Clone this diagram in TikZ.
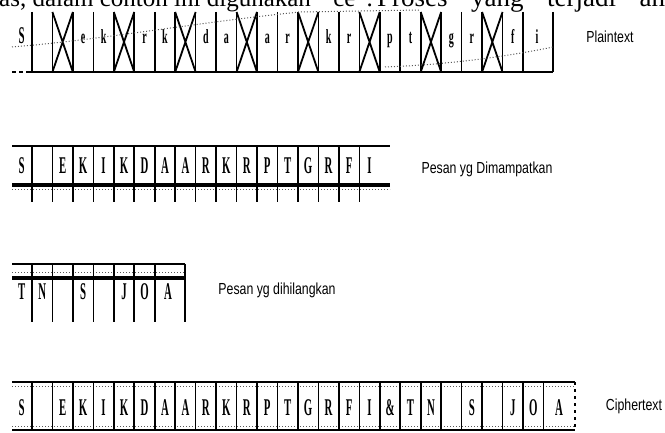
\documentclass[tikz,border=0pt]{standalone}
\usepackage{fontspec}
\setmainfont{Liberation Serif}
\newfontfamily\labfont{Liberation Sans}
\begin{document}
\begin{tikzpicture}[x=1pt,y=-1pt,
  cellline/.style={line width=1.6pt},
  heavybar/.style={line width=3.5pt},
  thinline/.style={line width=1.5pt},
  grain/.style={line width=1pt, dotted, black!65},
  crossline/.style={line width=1.8pt},
  doctext/.style={font=\fontsize{25}{25}\selectfont, inner sep=0, anchor=base west},
  lowl/.style={font=\bfseries\fontsize{20}{20}\selectfont, xscale=0.5, inner sep=0, anchor=base},
  capl/.style={font=\bfseries\fontsize{24}{24}\selectfont, xscale=0.45, inner sep=0, anchor=base},
  lbl/.style={font=\labfont\fontsize{16}{16}\selectfont, xscale=0.77, inner sep=0}]
\useasboundingbox (0,0) rectangle (665,433);
\clip (0,0) rectangle (665,433);
\fill[white] (0,0) rectangle (665,433);
\def\xo{11.5}
\def\w{20.46}
% clipped document text (line of the source page)
\node[doctext] (doc1) at (-1,6.5) {as, dalam contoh ini digunakan};
\node[doctext] (doc2) at (322,6.5) {``ce''.};
\node[doctext, font=\fontsize{27}{27}\selectfont] (doc3) at (377,6.5) {\makebox[288pt][s]{Proses yang terjadi an}};
% ---------- Row 1: plaintext ----------
\foreach \k in {1,...,25} \draw[cellline] (\xo+\k*\w,12) -- (\xo+\k*\w,72);
\draw[cellline] (553,12) -- (553,72);
\draw[line width=2.5pt] (28,72) -- (553,72);
\draw[line width=2.5pt, dash pattern=on 4pt off 3pt] (12,72) -- (28,72);
\foreach \k in {2,5,8,11,14,17,20,23}
  \draw[crossline] (\xo+\k*\w,12) -- (\xo+\k*\w+\w,72) (\xo+\k*\w+\w,12) -- (\xo+\k*\w,72);
\node[capl] (pS) at (\xo+0.5*\w,44) {S};
\foreach \k/\l in {3/e,4/k,6/r,7/k,9/d,10/a,12/a,13/r,15/k,16/r,18/p,19/t,21/g,22/r,24/f}
  \node[lowl] (p\k) at (\xo+\k*\w+0.5*\w,44) {\l};
\node[lowl] (p25) at (537,44) {i};
\draw[grain] (12,47) .. controls (100,40) and (200,22) .. (300,12) -- (420,10);
\draw[grain] (385,67) .. controls (440,65) and (500,58) .. (553,47);
\node[lbl] (plain) at (610,37) {Plaintext};
% ---------- Row 2: compressed ----------
\draw[thinline] (12,146) -- (390,146);
\draw[heavybar] (12,185) -- (390,185);
\draw[grain] (12,190) -- (390,190);
\foreach \k in {1,...,17} \draw[cellline] (\xo+\k*\w,146) -- (\xo+\k*\w,202);
\foreach \k/\l in {0/S,2/E,3/K,4/I,5/K,6/D,7/A,8/A,9/R,10/K,11/R,12/P,13/T,14/G,15/R,16/F,17/I}
  \node[capl] (m\k) at (\xo+\k*\w+0.5*\w,174) {\l};
\node[lbl] (comp) at (487,169) {Pesan yg Dimampatkan};
% ---------- Row 3: removed ----------
\draw[thinline] (12,264) -- (185,264);
\draw[grain] (12,273) -- (185,273);
\draw[heavybar] (12,278) -- (185,278);
\foreach \k in {1,...,7} \draw[cellline] (\xo+\k*\w,264) -- (\xo+\k*\w,322);
\draw[cellline] (185,264) -- (185,322);
\foreach \k/\l in {0/T,1/N,3/S,5/J,6/O}
  \node[capl] (h\k) at (\xo+\k*\w+0.5*\w,300) {\l};
\node[capl] (h7) at (168,300) {A};
\node[lbl] (rem) at (277,290) {Pesan yg dihilangkan};
% ---------- Row 4: ciphertext ----------
\draw[thinline] (12,382) -- (575,382);
\draw[grain] (12,386.5) -- (575,386.5);
\draw[grain] (12,426) -- (575,426);
\draw[thinline] (12,430) -- (575,430);
\foreach \k in {1,...,26} \draw[cellline] (\xo+\k*\w,382) -- (\xo+\k*\w,430);
\draw[cellline, dash pattern=on 3pt off 4pt] (575,382) -- (575,430);
\foreach \k/\l in {0/S,2/E,3/K,4/I,5/K,6/D,7/A,8/A,9/R,10/K,11/R,12/P,13/T,14/G,15/R,16/F,17/I,18/\&,19/T,20/N,22/S,24/J,25/O}
  \node[capl] (c\k) at (\xo+\k*\w+0.5*\w,415) {\l};
\node[capl] (c26) at (559,415) {A};
\node[lbl] (ciph) at (634,406) {Ciphertext};
\end{tikzpicture}
\end{document}
